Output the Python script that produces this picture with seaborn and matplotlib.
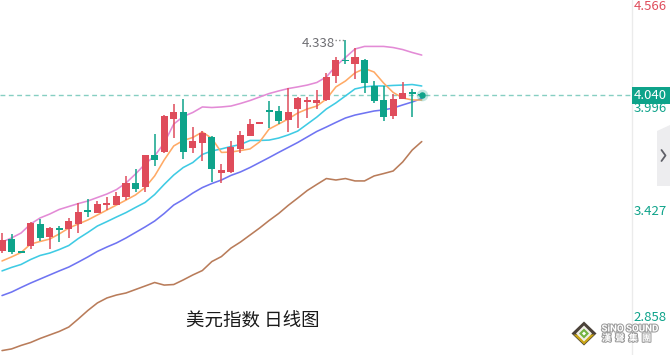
import matplotlib
matplotlib.use("Agg")
import matplotlib.pyplot as plt
import matplotlib.patheffects as pe
from matplotlib.patches import Polygon, Rectangle
from matplotlib.lines import Line2D
import seaborn as sns
import pandas as pd
import numpy as np

# ---------------- data ----------------
opens = [3.194, 3.257, 3.188, 3.219, 3.339, 3.270, 3.313, 3.310, 3.341, 3.415,
         3.400, 3.444, 3.444, 3.487, 3.562, 3.540, 3.714, 3.732, 3.911, 3.948,
         3.754, 3.781, 3.812, 3.614, 3.623, 3.747, 3.819, 3.884, 3.957, 3.953,
         3.904, 3.966, 4.002, 3.997, 4.013, 4.143, 4.230, 4.208, 4.230, 4.091,
         4.013, 3.926, 4.019, 4.056, 4.043]
highs = [3.292, 3.285, 3.190, 3.351, 3.365, 3.321, 3.328, 3.373, 3.455, 3.473,
         3.464, 3.484, 3.513, 3.600, 3.636, 3.716, 3.826, 3.933, 3.991, 4.018,
         3.866, 3.846, 3.817, 3.665, 3.790, 3.844, 3.910, 3.889, 4.007, 3.980,
         4.078, 4.031, 4.028, 4.067, 4.158, 4.248, 4.338, 4.294, 4.236, 4.116,
         4.089, 4.045, 4.111, 4.074, 4.045]
lows = [3.181, 3.174, 3.180, 3.205, 3.248, 3.201, 3.243, 3.261, 3.292, 3.379,
        3.400, 3.415, 3.444, 3.469, 3.514, 3.514, 3.654, 3.726, 3.805, 3.692,
        3.723, 3.683, 3.569, 3.560, 3.614, 3.723, 3.817, 3.884, 3.862, 3.882,
        3.841, 3.859, 3.913, 3.962, 4.009, 4.104, 4.208, 4.127, 4.053, 3.997,
        3.900, 3.911, 4.019, 3.920, 4.037]
closes = [3.252, 3.188, 3.184, 3.346, 3.261, 3.316, 3.308, 3.355, 3.404, 3.404,
          3.448, 3.448, 3.491, 3.562, 3.531, 3.714, 3.688, 3.926, 3.948, 3.732,
          3.790, 3.835, 3.639, 3.632, 3.756, 3.821, 3.881, 3.889, 3.948, 3.900,
          3.949, 4.025, 4.013, 4.013, 4.140, 4.230, 4.223, 4.247, 4.107, 4.009,
          3.923, 4.018, 4.051, 4.048, 4.040]

line_upper = [3.241, 3.263, 3.290, 3.339, 3.372, 3.393, 3.418, 3.434, 3.450, 3.464,
              3.483, 3.502, 3.526, 3.562, 3.611, 3.665, 3.709, 3.779, 3.882, 3.923,
              3.945, 3.975, 3.972, 3.975, 3.980, 3.994, 4.010, 4.029, 4.048, 4.062,
              4.075, 4.084, 4.094, 4.108, 4.138, 4.198, 4.244, 4.290, 4.304, 4.304,
              4.304, 4.298, 4.287, 4.271, 4.257]
ma_orange = [3.138, 3.160, 3.184, 3.230, 3.244, 3.257, 3.285, 3.317, 3.339, 3.361,
             3.388, 3.415, 3.442, 3.469, 3.497, 3.537, 3.600, 3.687, 3.763, 3.793,
             3.809, 3.839, 3.804, 3.728, 3.730, 3.738, 3.747, 3.785, 3.855, 3.882,
             3.910, 3.942, 3.964, 3.980, 4.018, 4.084, 4.116, 4.160, 4.184, 4.165,
             4.105, 4.054, 4.024, 4.013, 4.013]
ma_cyan = [3.084, 3.103, 3.119, 3.146, 3.168, 3.181, 3.200, 3.222, 3.260, 3.293,
           3.328, 3.352, 3.377, 3.401, 3.429, 3.456, 3.499, 3.554, 3.605, 3.646,
           3.673, 3.717, 3.736, 3.747, 3.760, 3.771, 3.793, 3.793, 3.795, 3.806,
           3.823, 3.844, 3.882, 3.920, 3.964, 3.997, 4.035, 4.073, 4.084, 4.089,
           4.089, 4.092, 4.094, 4.097, 4.089]
ma_blue = [2.950, 2.969, 2.994, 3.018, 3.040, 3.062, 3.084, 3.105, 3.132, 3.160,
           3.190, 3.214, 3.236, 3.263, 3.293, 3.323, 3.355, 3.396, 3.442, 3.472,
           3.507, 3.537, 3.559, 3.578, 3.603, 3.622, 3.646, 3.673, 3.700, 3.728,
           3.755, 3.782, 3.812, 3.842, 3.866, 3.891, 3.915, 3.931, 3.942, 3.953,
           3.959, 3.969, 3.986, 4.002, 4.021]
ma_brown = [2.651, 2.660, 2.679, 2.695, 2.717, 2.736, 2.755, 2.779, 2.823, 2.869,
            2.910, 2.937, 2.953, 2.964, 2.983, 3.002, 3.021, 3.007, 3.010, 3.035,
            3.062, 3.086, 3.135, 3.162, 3.208, 3.241, 3.279, 3.317, 3.358, 3.396,
            3.440, 3.480, 3.521, 3.554, 3.586, 3.578, 3.586, 3.573, 3.573, 3.600,
            3.613, 3.627, 3.676, 3.741, 3.787]

last_price = 4.040
high_label = "4.338"
axis_labels = ["4.566", "3.996", "3.427", "2.858"]
title = "美元指数 日线图"

# ---------------- style ----------------
sns.set_style("white")
plt.rcParams["font.family"] = ["Noto Sans CJK SC", "DejaVu Sans"]

RED = "#DF4C5B"
GREEN = "#0EA38A"
W, H = 670, 355

fig = plt.figure(figsize=(W / 100, H / 100), dpi=100)
fig.patch.set_facecolor("white")
ax = fig.add_axes([0, 0, 632 / W, 1])
ax.set_facecolor("white")
for s in ax.spines.values():
    s.set_visible(False)
ax.set_xticks([])
ax.set_yticks([])

n = len(opens)
idx = np.arange(n)
df = pd.DataFrame({"i": idx, "open": opens, "high": highs, "low": lows, "close": closes,
                   "upper": line_upper, "ma5": ma_orange, "ma10": ma_cyan,
                   "ma20": ma_blue, "ma60": ma_brown})

step = 9.54
ax.set_xlim(-2 / step, 630 / step)
ax.set_ylim(2.627, 4.5563)

# moving-average / band lines
for col, c in [("ma60", "#B97C5A"), ("ma20", "#6F74F2"), ("ma10", "#3FCBE4"),
               ("ma5", "#FFAA66"), ("upper", "#E38BD6")]:
    sns.lineplot(data=df, x="i", y=col, color=c, lw=1.15, ax=ax, zorder=2)
ax.set_xlabel("")
ax.set_ylabel("")

# current price dashed line
ax.axhline(last_price, color="#86CFC2", lw=1.0, ls=(0, (3.5, 2.5)), zorder=1)

# candles
up = df["close"] >= df["open"]
cols = np.where(up, RED, GREEN)
body_bottom = np.minimum(df["open"], df["close"])
body_h = np.maximum(np.abs(df["close"] - df["open"]), 0.008)
ax.vlines(df["i"], df["low"], df["high"], colors=cols, lw=1.1, zorder=3)
ax.bar(df["i"], body_h, bottom=body_bottom, width=0.74, color=cols, linewidth=0, zorder=4)

# last price dot
ax.scatter([idx[-1]], [closes[-1]], s=70, color=GREEN, alpha=0.25, linewidths=0, zorder=5)
ax.scatter([idx[-1]], [closes[-1]], s=22, color=GREEN, linewidths=0, zorder=6)

# high label
hi_i = int(np.argmax(highs))
ax.plot([hi_i - 1.05, hi_i], [highs[hi_i], highs[hi_i]], ls=(0, (1, 1.6)), color="#888888", lw=1.0, zorder=5)
ax.annotate(high_label, xy=(hi_i - 1.1, highs[hi_i]), xytext=(0, -2.5), textcoords="offset points",
            ha="right", va="center", fontsize=9.5, color="#6E6E73", zorder=6)

# title
ax.text(186 / 632, 1 - 322 / H, title, transform=ax.transAxes, ha="left", va="center",
        fontsize=13.3, color="#1A1A1A")

# ---------------- right price panel ----------------
def fx(x):
    return x / W

def fy(y):
    return 1 - y / H

fig.add_artist(Line2D([fx(631.5), fx(631.5)], [0, 1], color="#EBEBEB", lw=1.0))

lab_y = [6.7, 108.5, 211.7, 317.7]
lab_c = [RED, GREEN, GREEN, GREEN]
for t, yy, c in zip(axis_labels, lab_y, lab_c):
    fig.text(fx(667), fy(yy), t, ha="right", va="center", fontsize=9.5, color=c, zorder=2)

fig.add_artist(Rectangle((fx(632), fy(104)), fx(670) - fx(632), fy(87) - fy(104),
                         transform=fig.transFigure, facecolor=GREEN, edgecolor="none", zorder=3))
fig.text(fx(667), fy(95.5), f"{last_price:.3f}", ha="right", va="center", fontsize=9.5,
         color="white", zorder=4)

# side tab with chevron
fig.add_artist(Polygon([(fx(657), fy(131)), (fx(670), fy(125)), (fx(670), fy(186)), (fx(657), fy(186))],
                       closed=True, transform=fig.transFigure, facecolor="#EDEDEF", edgecolor="none"))
fig.add_artist(Line2D([fx(661.5), fx(665.5), fx(661.5)], [fy(150), fy(155.5), fy(161)],
                      color="#5F6068", lw=1.3))

# logo
def poly(pts, color, z=5):
    fig.add_artist(Polygon([(fx(a), fy(b)) for a, b in pts], closed=True, transform=fig.transFigure,
                           facecolor=color, edgecolor="none", zorder=z))

poly([(584, 321.5), (596.5, 333.5), (584, 345.5), (571.5, 333.5)], "#4B4239")
poly([(573.5, 334.5), (594.5, 334.5), (584, 344.5)], "#C9A514")
poly([(584, 325.5), (592, 333.5), (584, 341.5), (576, 333.5)], "#F1EFE6")
poly([(584, 328.5), (589, 333.5), (584, 338.5), (579, 333.5)], "#73B443")
poly([(584, 331.5), (586, 333.5), (584, 335.5), (582, 333.5)], "#FFFFFF")
stroke = [pe.withStroke(linewidth=1.5, foreground="#9C9C9C")]
fig.text(fx(601.5), fy(328.5), "SiNO SOUND", ha="left", va="center", fontsize=7.0, fontweight="bold",
         color="#FFFFFF", path_effects=stroke, family=["Roboto", "DejaVu Sans"])
fig.text(fx(602), fy(338.5), "漢  聲  集  團", ha="left", va="center", fontsize=6.6, fontweight="bold",
         color="#FFFFFF", path_effects=stroke)

fig.savefig("out.png", dpi=100, facecolor="white")
